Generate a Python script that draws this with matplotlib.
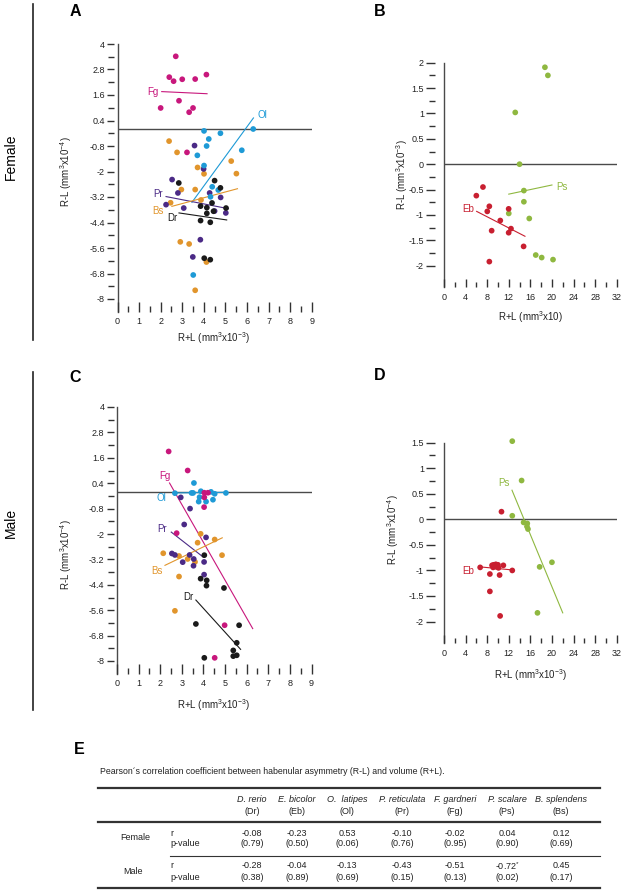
import numpy as np
import matplotlib
matplotlib.use("Agg")
import matplotlib.pyplot as plt
from matplotlib.lines import Line2D

plt.rcParams['font.family'] = ['Liberation Sans', 'DejaVu Sans']
plt.rcParams['mathtext.fontset'] = 'custom'
plt.rcParams['mathtext.rm'] = 'Liberation Sans'
plt.rcParams['mathtext.it'] = 'Liberation Sans:italic'

# ---- colours per species
colors = {'Dr': '#1a1a1a', 'Eb': '#c81f30', 'Ol': '#1e9ad6', 'Pr': '#4b2a86',
          'Fg': '#c8177c', 'Ps': '#8fb840', 'Bs': '#e1952c'}

# ---- panel A: female, R+L (mm3 x10-3) vs R-L (mm3 x10-4)
fem_dr_x = [2.84, 4.50, 4.77, 4.38, 3.85, 4.14, 5.03, 4.45, 4.14, 3.85, 4.30, 4.02, 4.30]
fem_dr_y = [-2.54, -2.43, -2.77, -3.48, -3.63, -3.70, -3.72, -3.87, -3.97, -4.31, -4.39, -6.08, -6.15]
fem_ol_x = [4.01, 4.77, 6.29, 4.23, 4.13, 3.70, 5.76, 4.01, 4.39, 4.67, 4.31, 3.51]
fem_ol_y = [-0.09, -0.20, 0.0, -0.47, -0.80, -1.24, -1.00, -1.72, -2.72, -2.87, -3.19, -6.87]
fem_pr_x = [3.57, 3.99, 2.53, 2.80, 4.27, 4.78, 2.25, 3.07, 4.50, 5.02, 3.84, 3.49]
fem_pr_y = [-0.78, -1.88, -2.38, -3.01, -3.01, -3.22, -3.56, -3.72, -3.86, -3.95, -5.21, -6.02]
fem_bs_x = [2.39, 2.76, 3.71, 4.01, 5.27, 5.51, 2.96, 3.60, 2.46, 3.87, 2.91, 3.32, 4.12, 3.60]
fem_bs_y = [-0.57, -1.10, -1.81, -2.11, -1.51, -2.10, -2.85, -2.85, -3.47, -3.34, -5.31, -5.41, -6.26, -7.59]
fem_fg_x = [2.70, 2.40, 2.60, 3.00, 3.60, 4.12, 2.85, 2.00, 3.50, 3.32, 3.22]
fem_fg_y = [3.42, 2.44, 2.25, 2.34, 2.35, 2.56, 1.33, 0.99, 0.99, 0.79, -1.10]
fem_fit_dr = ([2.85, 5.06], [-3.95, -4.28])
fem_fit_ol = ([3.45, 6.30], [-3.45, 0.52])
fem_fit_pr = ([2.25, 5.14], [-3.18, -3.75])
fem_fit_bs = ([2.52, 5.56], [-3.64, -2.81])
fem_fit_fg = ([2.05, 4.15], [1.76, 1.66])

# ---- panel B: female, R+L (mm3 x10) vs R-L (mm3 x10-3)
fem_ps_x = [18.7, 19.25, 13.2, 14.0, 14.8, 14.8, 12.0, 15.8, 17.0, 18.1, 20.2]
fem_ps_y = [1.91, 1.75, 1.02, 0.0, -0.52, -0.74, -0.97, -1.07, -1.79, -1.84, -1.88]
fem_eb_x = [7.22, 5.99, 8.40, 8.02, 11.98, 10.43, 8.83, 12.41, 11.98, 14.75, 8.40]
fem_eb_y = [-0.45, -0.62, -0.83, -0.93, -0.88, -1.11, -1.31, -1.27, -1.35, -1.62, -1.92]
fem_fit_ps = ([12.0, 20.0], [-0.59, -0.41])
fem_fit_eb = ([6.05, 15.0], [-0.93, -1.42])

# ---- panel C: male, R+L (mm3 x10-3) vs R-L (mm3 x10-4)
male_dr_x = [4.04, 3.87, 4.15, 4.14, 4.95, 3.65, 5.65, 5.54, 5.38, 5.54, 5.38, 4.04]
male_dr_y = [-3.00, -4.11, -4.19, -4.44, -4.55, -6.25, -6.31, -7.14, -7.50, -7.73, -7.77, -7.85]
male_ol_x = [3.56, 2.68, 3.45, 3.52, 3.88, 3.82, 3.78, 4.12, 4.35, 4.52, 4.44, 5.04]
male_ol_y = [0.41, -0.07, -0.06, -0.06, 0.02, -0.26, -0.47, -0.47, -0.01, -0.10, -0.38, -0.06]
male_pr_x = [2.95, 3.38, 3.11, 4.12, 2.54, 2.68, 3.36, 3.04, 3.55, 3.54, 4.03, 4.03]
male_pr_y = [-0.27, -0.80, -1.55, -2.16, -2.92, -2.99, -2.99, -3.33, -3.18, -3.50, -3.32, -3.92]
male_bs_x = [2.14, 2.87, 3.27, 3.61, 3.87, 3.73, 4.52, 4.86, 2.87, 2.68]
male_bs_y = [-2.91, -3.04, -3.18, -3.32, -1.99, -2.41, -2.26, -3.00, -4.01, -5.63]
male_fg_x = [2.39, 3.27, 4.04, 4.21, 4.04, 4.03, 2.76, 4.98, 4.52]
male_fg_y = [1.90, 1.00, -0.05, -0.05, -0.27, -0.73, -1.96, -6.31, -7.85]
male_fit_dr = ([3.65, 5.72], [-5.12, -7.45])
male_fit_ol = ([2.68, 5.04], [-0.06, -0.03])
male_fit_pr = ([2.51, 3.99], [-1.91, -3.09])
male_fit_bs = ([2.22, 4.87], [-3.48, -2.18])
male_fit_fg = ([2.43, 6.28], [0.41, -6.47])

# ---- panel D: male, R+L (mm3 x10-3) vs R-L (mm3 x10-4)
male_ps_x = [12.65, 14.38, 12.65, 14.75, 15.43, 15.37, 15.56, 17.72, 20.0, 17.32]
male_ps_y = [1.53, 0.76, 0.07, -0.06, -0.08, -0.14, -0.19, -0.93, -0.84, -1.83]
male_eb_x = [10.65, 6.7, 8.9, 9.2, 9.6, 10.0, 9.1, 9.7, 10.1, 11.0, 12.65, 8.5, 10.3, 8.5, 10.4]
male_eb_y = [0.15, -0.94, -0.90, -0.89, -0.88, -0.89, -0.94, -0.93, -0.95, -0.90, -1.00, -1.07, -1.09, -1.41, -1.89]
male_fit_ps = ([12.6, 22.0], [0.57, -1.83])
male_fit_eb = ([6.65, 12.65], [-0.93, -0.99])

# ---- ticks
ac_yticks = [4, 2.8, 1.6, 0.4, -0.8, -2, -3.2, -4.4, -5.6, -6.8, -8]
ac_ylabels = ['4', '2.8', '1.6', '0.4', '-0.8', '-2', '-3.2', '-4.4', '-5.6', '-6.8', '-8']
ac_xticks = [0, 1, 2, 3, 4, 5, 6, 7, 8, 9]
b_yticks = [2, 1.5, 1, 0.5, 0, -0.5, -1, -1.5, -2]
b_ylabels = ['2', '1.5', '1', '0.5', '0', '-0.5', '-1', '-1.5', '-2']
d_yticks = [1.5, 1, 0.5, 0, -0.5, -1, -1.5, -2]
d_ylabels = ['1.5', '1', '0.5', '0', '-0.5', '-1', '-1.5', '-2']
bd_xticks = [0, 4, 8, 12, 16, 20, 24, 28, 32]

# ---- table E
species = ['D. rerio', 'E. bicolor', 'O.  latipes', 'P. reticulata', 'F. gardneri', 'P. scalare', 'B. splendens']
abbrev = ['(Dr)', '(Eb)', '(Ol)', '(Pr)', '(Fg)', '(Ps)', '(Bs)']
female_r = ['-0.08', '-0.23', '0.53', '-0.10', '-0.02', '0.04', '0.12']
female_p = ['(0.79)', '(0.50)', '(0.06)', '(0.76)', '(0.95)', '(0.90)', '(0.69)']
male_r = ['-0.28', '-0.04', '-0.13', '-0.43', '-0.51', '-0.72$^{*}$', '0.45']
male_p = ['(0.38)', '(0.89)', '(0.69)', '(0.15)', '(0.13)', '(0.02)', '(0.17)']

W, H = 624, 892
fig = plt.figure(figsize=(W / 100, H / 100), dpi=100)
AXC = '#4a4a4a'


def px_axes(left, top, right, bottom):
    return fig.add_axes([left / W, 1 - bottom / H, (right - left) / W, (bottom - top) / H])


def ftext(x, y, s, **kw):
    fig.text(x / W, 1 - y / H, s, **kw)


def setup(ax, xlim, ylim, xt, xminor, yt, ylabels, yminor, big=True):
    ax.set_xlim(*xlim)
    ax.set_ylim(*ylim)
    ax.patch.set_alpha(0)
    for s in ['top', 'right', 'bottom']:
        ax.spines[s].set_visible(False)
    # y ticks sit a little apart from the axis line
    ax.spines['left'].set_position(('outward', 2.5 if big else 6.5))
    ax.spines['left'].set_visible(False)
    ax.set_xticks(xt)
    ax.set_xticklabels([str(v) for v in xt])
    ax.set_xticks(xminor, minor=True)
    ax.set_yticks(yt)
    ax.set_yticklabels(ylabels)
    ax.set_yticks(yminor, minor=True)
    lx = (7, 4.5) if big else (6, 3.5)
    ly = (5, 4) if big else (6.5, 4)
    ax.tick_params(axis='x', which='major', direction='in', length=lx[0], width=1, color='#333', pad=4, labelsize=6.5, labelcolor='#222')
    ax.tick_params(axis='x', which='minor', direction='in', length=lx[1], width=1, color='#333')
    ax.tick_params(axis='y', which='major', direction='out', length=ly[0], width=1, color='#333', pad=1.5, labelsize=6.5, labelcolor='#222')
    ax.tick_params(axis='y', which='minor', direction='out', length=ly[1], width=1, color='#333')
    ax.axvline(0, color=AXC, lw=1.0, clip_on=False, zorder=1)
    ax.axhline(0, color=AXC, lw=1.0, zorder=1)


def dots(ax, x, y, sp):
    ax.scatter(x, y, s=17, color=colors[sp], edgecolors='none', zorder=3, clip_on=False)


def fit(ax, line, sp, end, dx, dy, ha='right'):
    ax.plot(line[0], line[1], color=colors[sp], lw=0.8, zorder=2)
    i = 0 if end == 'start' else 1
    ax.annotate(sp, (line[0][i], line[1][i]), xytext=(dx, dy), textcoords='offset points',
                ha=ha, va='center', color=colors[sp], fontsize=7)


# A
axA = px_axes(117.5, 44, 311.7, 311.75)
setup(axA, (0, 9), (-8.6, 4.0), ac_xticks, np.arange(0.5, 9, 1.0), ac_yticks, ac_ylabels, np.arange(-7.4, 4, 1.2))
dots(axA, fem_fg_x, fem_fg_y, 'Fg')
dots(axA, fem_bs_x, fem_bs_y, 'Bs')
dots(axA, fem_pr_x, fem_pr_y, 'Pr')
dots(axA, fem_ol_x, fem_ol_y, 'Ol')
dots(axA, fem_dr_x, fem_dr_y, 'Dr')
fit(axA, fem_fit_fg, 'Fg', 'start', -2, 0)
fit(axA, fem_fit_ol, 'Ol', 'end', 3, 2, ha='left')
fit(axA, fem_fit_pr, 'Pr', 'start', -2, 2)
fit(axA, fem_fit_bs, 'Bs', 'start', -6, -3)
fit(axA, fem_fit_dr, 'Dr', 'start', -1.2, -4)

# B
axB = px_axes(444, 62.7, 616.7, 287)
setup(axB, (0, 32), (-2.42, 2.0), bd_xticks, np.arange(2, 32, 4), b_yticks, b_ylabels, np.arange(-1.75, 2, 0.5), big=False)
dots(axB, fem_ps_x, fem_ps_y, 'Ps')
dots(axB, fem_eb_x, fem_eb_y, 'Eb')
fit(axB, fem_fit_ps, 'Ps', 'end', 3, -1.7, ha='left')
fit(axB, fem_fit_eb, 'Eb', 'start', -1.7, 1.7)

# C
axC = px_axes(117, 407, 311.5, 673.7)
setup(axC, (0, 9), (-8.6, 4.0), ac_xticks, np.arange(0.5, 9, 1.0), ac_yticks, ac_ylabels, np.arange(-7.4, 4, 1.2))
dots(axC, male_bs_x, male_bs_y, 'Bs')
dots(axC, male_pr_x, male_pr_y, 'Pr')
dots(axC, male_dr_x, male_dr_y, 'Dr')
dots(axC, male_ol_x, male_ol_y, 'Ol')
dots(axC, male_fg_x, male_fg_y, 'Fg')
fit(axC, male_fit_fg, 'Fg', 'start', 1, 5.3)
fit(axC, male_fit_ol, 'Ol', 'start', -6, -3.4)
fit(axC, male_fit_pr, 'Pr', 'start', -3, 2.4)
fit(axC, male_fit_bs, 'Bs', 'start', -2, -4.3)
fit(axC, male_fit_dr, 'Dr', 'start', -1.5, 2.4)

# D
axD = px_axes(444, 442.7, 616.7, 643)
setup(axD, (0, 32), (-2.42, 1.5), bd_xticks, np.arange(2, 32, 4), d_yticks, d_ylabels, np.arange(-1.75, 1.5, 0.5), big=False)
dots(axD, male_ps_x, male_ps_y, 'Ps')
dots(axD, male_eb_x, male_eb_y, 'Eb')
fit(axD, male_fit_ps, 'Ps', 'start', -2, 5.3)
fit(axD, male_fit_eb, 'Eb', 'start', -4.3, -2.9)

# axis titles
lab = dict(fontsize=7, color='#222', ha='center', va='center')
ftext(66, 172, 'R-L (mm$^{3}$x10$^{-4}$)', rotation=90, **lab)
ftext(214, 338, 'R+L (mm$^{3}$x10$^{-3}$)', **lab)
ftext(402, 175, 'R-L (mm$^{3}$x10$^{-3}$)', rotation=90, **lab)
ftext(530, 317, 'R+L (mm$^{3}$x10)', **lab)
ftext(66, 555, 'R-L (mm$^{3}$x10$^{-4}$)', rotation=90, **lab)
ftext(214, 705, 'R+L (mm$^{3}$x10$^{-3}$)', **lab)
ftext(393, 530, 'R-L (mm$^{3}$x10$^{-4}$)', rotation=90, **lab)
ftext(531, 675, 'R+L (mm$^{3}$x10$^{-3}$)', **lab)

# panel letters
for letter, x, y in [('A', 75, 12), ('B', 380, 12), ('C', 75, 378), ('D', 380, 376), ('E', 79, 749)]:
    ftext(x, y, letter, fontsize=11.5, fontweight='bold', ha='center', va='center')

# sex labels and brackets
ftext(11, 157, 'Female', fontsize=10, rotation=90, ha='center', va='center')
ftext(11, 523, 'Male', fontsize=10, rotation=90, ha='center', va='center')
fig.add_artist(Line2D([33 / W, 33 / W], [1 - 4 / H, 1 - 340 / H], color='#222', lw=1.2))
fig.add_artist(Line2D([33 / W, 33 / W], [1 - 372 / H, 1 - 710 / H], color='#222', lw=1.2))

# table E
ftext(100, 771, 'Pearson\u00b4s correlation coefficient between habenular asymmetry (R-L) and volume (R+L).',
      fontsize=6.3, ha='left', va='center', color='#222')
col_x = [252, 297, 347, 402, 455, 507, 561]
for y, lw, x0 in [(788, 1.6, 98), (822, 1.6, 98), (856, 0.8, 170), (888, 1.6, 98)]:
    fig.add_artist(Line2D([x0 / W, 600 / W], [1 - y / H, 1 - y / H], color='#333', lw=lw))
tk = dict(fontsize=6.5, ha='center', va='center', color='#222')
for i, cx in enumerate(col_x):
    ftext(cx, 800, species[i], style='italic', **tk)
    ftext(cx, 811, abbrev[i], **tk)
    ftext(cx, 833, female_r[i], **tk)
    ftext(cx, 843, female_p[i], **tk)
    ftext(cx, 866, male_r[i], **tk)
    ftext(cx, 877, male_p[i], **tk)
ftext(135, 838, 'Female', **tk)
ftext(133, 871, 'Male', **tk)
for y, s in [(833, 'r'), (843, 'p-value'), (866, 'r'), (877, 'p-value')]:
    ftext(170, y, s, fontsize=6.5, ha='left', va='center', color='#222')

fig.savefig('out.png', dpi=100)
